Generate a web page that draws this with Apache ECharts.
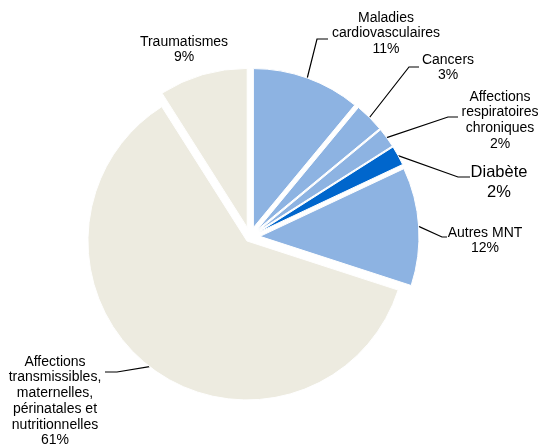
<!DOCTYPE html>
<html><head><meta charset="utf-8">
<script src="https://cdn.jsdelivr.net/npm/echarts@6/dist/echarts.min.js"></script>
<style>html,body{margin:0;padding:0;background:#fff}#c{width:539px;height:444px}</style>
</head><body><div id="c"></div>
<script>
const categories = ['Maladies\ncardiovasculaires', 'Cancers', 'Affections\nrespiratoires\nchroniques', 'Diabète', 'Autres MNT', 'Affections\ntransmissibles,\nmaternelles,\npérinatales et\nnutritionnelles', 'Traumatismes'];
const values = [11, 3, 2, 2, 12, 61, 9];
const palette = ['#8DB3E2', '#8DB3E2', '#8DB3E2', '#0066CC', '#8DB3E2', '#EDEBE0', '#EDEBE0'];
// which explode group each slice belongs to, and the explode distance of each group
const group = [0, 0, 0, 0, 0, 1, 0];
const groupOffset = [10, 5];

// label placement (text anchor: center x, top y) and elbow/end points of the leader line
const labelSpots = [
  { x: 386, y: 10, line: [[317, 39], [328, 39]] },
  { x: 448, y: 52, line: [[409, 67], [419, 67]] },
  { x: 500, y: 89, line: [[448, 117], [458, 117]] },
  { x: 499, y: 162, line: [[458, 177], [470, 177]] },
  { x: 485, y: 225, line: [[442, 237], [447, 237]] },
  { x: 55, y: 354, line: [[117, 372], [105, 372]] },
  { x: 184, y: 34, line: null }
];

const font = "'Liberation Sans', Arial, sans-serif";
const CENTER = [250, 237];
const RADIUS = 159;

function baseSeries() {
  return {
    type: 'pie',
    center: CENTER,
    startAngle: 90,
    clockwise: true,
    avoidLabelOverlap: false,
    silent: true,
    animation: false,
    emphasis: { disabled: true }
  };
}

// visible, exploded slices (no labels)
function sliceSeries(g) {
  return Object.assign(baseSeries(), {
    radius: [0, RADIUS],
    selectedMode: 'multiple',
    selectedOffset: groupOffset[g],
    label: { show: false },
    labelLine: { show: false },
    data: values.map((v, i) => {
      const visible = group[i] === g;
      return {
        name: categories[i],
        value: v,
        selected: visible,
        itemStyle: visible ? { color: palette[i], borderColor: '#fff', borderWidth: 1 } : { color: 'transparent', borderWidth: 0 }
      };
    })
  });
}

// invisible twin pie whose rim sits on the exploded slices' rim: carries the labels
function labelSeries(g) {
  return Object.assign(baseSeries(), {
    radius: [0, RADIUS + groupOffset[g]],
    itemStyle: { color: 'transparent', borderWidth: 0 },
    label: {
      show: true,
      position: 'outside',
      formatter: p => p.name + '\n' + p.value + '%',
      fontFamily: font,
      fontSize: 14,
      lineHeight: 15.7,
      color: '#000',
      align: 'center'
    },
    labelLine: { show: true, length: 10, length2: 10, lineStyle: { color: '#000', width: 1.2 } },
    labelLayout: function (params) {
      const s = labelSpots[params.dataIndex];
      const out = { x: s.x, y: s.y, align: 'center', verticalAlign: 'top' };
      if (s.line && params.labelLinePoints) {
        out.labelLinePoints = [params.labelLinePoints[0], s.line[0], s.line[1]];
      }
      return out;
    },
    data: values.map((v, i) => {
      const visible = group[i] === g;
      const item = {
        name: categories[i],
        value: v,
        label: { show: visible },
        labelLine: { show: visible && labelSpots[i].line !== null }
      };
      if (i === 3) {
        item.label.fontSize = 16.5;
        item.label.lineHeight = 20;
      }
      return item;
    })
  });
}

const chart = echarts.init(document.getElementById('c'), null, { renderer: 'canvas' });
chart.setOption({
  animation: false,
  backgroundColor: '#fff',
  series: [sliceSeries(0), sliceSeries(1), labelSeries(0), labelSeries(1)]
});
</script>
</body></html>
